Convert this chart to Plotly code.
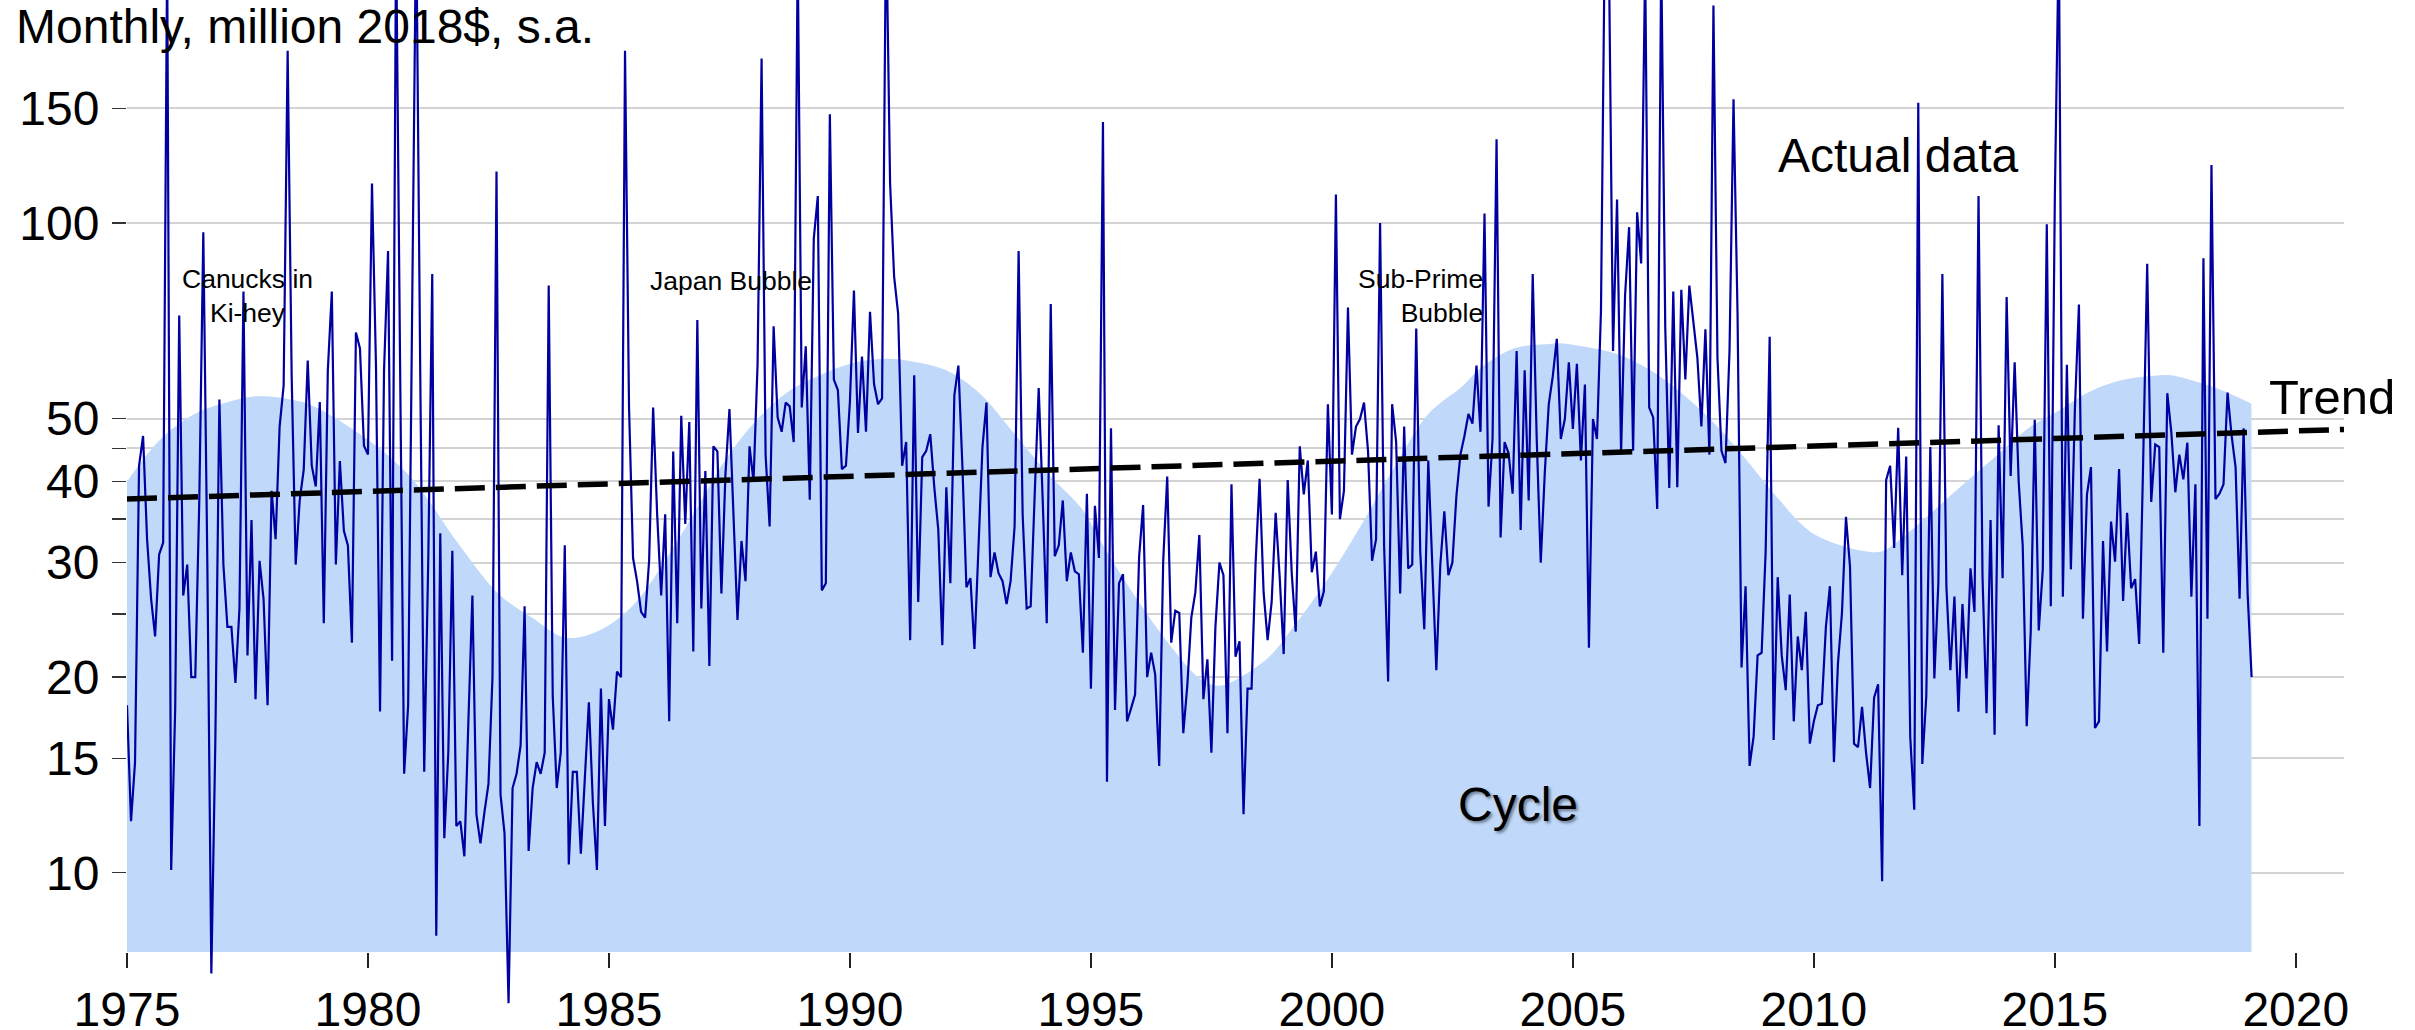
import plotly.graph_objects as go

# ---------------- data ----------------
start_year = 1975  # monthly series, first observation Jan 1975

actual_1975_1984 = [
    18.1, 12.0, 14.8, 42.3, 47, 32.6, 26.4, 23.1, 30.9, 32.2, 260, 10.1,
    17.9, 72, 26.7, 29.8, 20, 20, 37.4, 96.7, 30, 7.0, 16, 53.5,
    29.8, 23.9, 23.9, 19.6, 25.5, 78.4, 21.6, 34.9, 18.5, 30.2, 26.4, 18.1,
    38.7, 32.6, 48.6, 56.2, 184, 58.1, 29.8, 37.4, 41.7, 61.4, 42.3, 39.3,
    53, 24.2, 59.3, 78.4, 29.8, 43.0, 33.6, 31.9, 22.6, 67.8, 64.1, 45.4,
    44, 115, 60, 17.7, 59.3, 90.5, 21.2, 280, 60, 14.2, 18.1, 70,
    300, 60, 14.3, 30, 83.4, 8.0, 33.3, 11.3, 15.3, 31.3, 11.8, 12.0,
    10.6, 17.1, 26.7, 12.3, 11.1, 12.4, 13.7, 20, 120, 13.2, 11.5, 6.3,
    13.5, 14.2, 15.7, 25.7, 10.8, 13.5, 14.8, 14.2, 15.3, 80.1, 18.7, 13.5,
    15.3, 31.9, 10.3, 14.3, 14.3, 10.7, 14.3, 18.3, 12.8, 10.1, 19.2, 11.8,
]
actual_1985_1994 = [
    18.5, 16.6, 20.4, 20, 184, 52, 30.5, 28.1, 25.2, 24.7, 30.2, 52,
    35.6, 26.7, 35.6, 17.1, 44.5, 24.2, 50.5, 34.4, 49.4, 21.9, 70.9, 25.5,
    41.5, 20.8, 45.3, 44.5, 26.9, 41, 51.7, 35.6, 24.5, 32.4, 28.1, 45.3,
    40, 60.6, 179, 44, 34.1, 69.3, 50.2, 47.7, 52.9, 52.2, 46, 260,
    52, 64.6, 37.5, 94.6, 110, 27.2, 27.9, 147, 57.4, 55.3, 41.8, 42.3,
    53.1, 78.7, 47.5, 62.3, 47.7, 73, 56.5, 52.6, 53.7, 300, 115, 82.7,
    72.5, 42.3, 46, 22.8, 58.3, 26.1, 43.6, 44.6, 47.3, 39.2, 33.7, 22.4,
    39.2, 27.9, 54.3, 60.3, 42.3, 27.5, 28.4, 22.1, 31, 45.2, 52.9, 28.5,
    31.1, 28.9, 28.1, 25.9, 28.1, 34.1, 90.5, 35.6, 25.5, 25.7, 38.1, 55.7,
    37.4, 24.2, 75, 30.7, 31.9, 37.4, 28.1, 31.1, 29.1, 28.8, 21.8, 38.3,
]
actual_1995_2004 = [
    19.2, 36.7, 30.5, 143, 13.8, 48.3, 17.8, 27.9, 28.8, 17.1, 17.9, 18.8,
    30.6, 36.8, 20, 21.8, 20.2, 14.6, 30.2, 40.7, 22.6, 25.3, 25.1, 16.4,
    19.4, 24.7, 27, 33.1, 18.5, 21.3, 15.3, 23.9, 30, 28.7, 16.4, 39.6,
    21.5, 22.7, 12.3, 19.2, 19.2, 29.9, 40.4, 27, 22.8, 26.1, 35.8, 28.5,
    21.7, 40.2, 28.9, 23.5, 45.3, 38.2, 43.1, 29, 31.2, 25.7, 27.1, 52.6,
    35.6, 110.6, 35, 38.7, 74.1, 44, 48.6, 49.9, 52.9, 44.5, 30.2, 32.6,
    100, 31.9, 19.7, 52.6, 46, 26.9, 48.6, 29.4, 29.8, 68.8, 31.2, 23.7,
    43.1, 30.5, 20.5, 29.8, 36, 28.7, 30, 38, 44, 47, 50.8, 49.1,
    60.3, 47.7, 103.4, 36.6, 46.5, 134.5, 32.8, 46, 44.2, 38.3, 63.5, 33.7,
    59.3, 37.4, 83.4, 46.5, 30, 41.2, 52.6, 58.1, 66.3, 46.5, 49.9, 61,
]
actual_2005_2014 = [
    48.2, 60.7, 43.1, 56.4, 22.2, 49.9, 46.5, 73.3, 300, 250, 63.5, 108.6,
    44.2, 77.4, 98.5, 44.6, 103.8, 86.6, 250, 52, 50.2, 36.3, 260, 69.3,
    39.1, 78.4, 39.2, 78.9, 57.4, 80.1, 70.9, 62, 48.6, 68.6, 44, 216,
    62, 44.6, 42.7, 63.5, 155, 72.5, 20.7, 27.6, 14.6, 16.2, 21.6, 21.8,
    31.2, 66.8, 16, 28.5, 21.6, 19.1, 26.8, 17.1, 23.1, 20.5, 25.2, 15.8,
    17.1, 18.1, 18.2, 23.9, 27.6, 14.8, 21, 25.1, 35.3, 29.6, 15.8, 15.6,
    18, 15.3, 13.5, 18.6, 19.5, 9.7, 40.2, 42.3, 31.6, 48.4, 28.7, 43.7,
    16.2, 12.5, 153, 14.7, 18.7, 45.2, 19.9, 27.9, 83.4, 27.6, 20.5, 26.6,
    17.7, 25.9, 19.9, 29.4, 25.2, 110, 28.5, 17.6, 34.9, 16.3, 48.8, 28.4,
    76.9, 40.8, 61, 40, 31.9, 16.8, 23.5, 49.8, 23.6, 29.3, 99.5, 25.7,
]
actual_2015_2019 = [
    109, 280, 26.6, 60.5, 29.3, 51.8, 74.9, 24.6, 38.2, 42.1, 16.7, 17.1,
    32.4, 21.9, 34.7, 30.1, 41.8, 26.2, 35.8, 27.4, 28.3, 22.5, 43, 86.5,
    37.2, 45.6, 45.2, 21.8, 54.7, 47.7, 38.5, 44, 40.3, 45.9, 26.6, 39.6,
    11.8, 88.2, 24.6, 122.8, 37.6, 38.3, 39.6, 54.8, 47.2, 42.1, 26.4, 48.3,
    26.9, 20,
]

cycle_years = [
    1975.0, 1975.7, 1976.4, 1977.1, 1977.7, 1978.4, 1978.8, 1979.8, 1980.85,
    1981.9, 1982.7, 1983.4, 1984.1, 1984.8, 1985.5, 1986.2, 1986.9, 1987.35,
    1988.06, 1988.75, 1989.4, 1990.1, 1990.8, 1991.3, 1992.0, 1992.7, 1993.4,
    1994.1, 1994.8, 1995.25, 1995.95, 1996.64, 1997.3, 1997.67, 1998.0, 1998.7,
    1999.2, 1999.9, 2000.6, 2001.3, 2002.0, 2002.7, 2003.1, 2003.8, 2004.5,
    2004.7, 2005.2, 2005.9, 2006.6, 2007.1, 2007.8, 2008.5, 2009.2, 2009.9,
    2010.5, 2011.0, 2011.4, 2011.7, 2012.4, 2013.1, 2013.8, 2014.5, 2015.0,
    2015.7, 2016.4, 2017.05, 2017.4, 2017.75, 2018.4, 2019.08,
]
cycle_values = [
    40, 46.5, 50.8, 53, 54.1, 53.5, 52.5, 47.5, 40.9,
    31.9, 26.9, 24.7, 23.0, 23.6, 25.8, 30.5, 37.2, 42.5,
    49.7, 55.2, 58.4, 61, 61.8, 61.2, 59.3, 54.6, 47.5,
    41.2, 36.4, 31.9, 26.4, 22.4, 19.8, 19.4, 19.8, 21.5,
    23.9, 28.2, 34.2, 42.1, 50.8, 56, 59.9, 64.2, 65.1,
    65.3, 64.6, 62.9, 59.4, 55.9, 50.3, 44.1, 38.1, 33.6,
    32, 31.3, 31.2, 32.2, 35.6, 39.6, 43.9, 48.6, 51,
    54.9, 57.3, 58.2, 58.3, 57.5, 55.5, 52.7,
]

trend_years = [1975, 2021]
trend_values = [37.6, 48.1]

y_tick_values = [10, 15, 20, 25, 30, 35, 40, 45, 50, 100, 150]
y_tick_labels = ["10", "15", "20", "", "30", "", "40", "", "50", "100", "150"]
x_tick_values = [1975, 1980, 1985, 1990, 1995, 2000, 2005, 2010, 2015, 2020]
x_tick_labels = ["1975", "1980", "1985", "1990", "1995", "2000", "2005", "2010", "2015", "2020"]

# ---------------- figure ----------------
actual = (actual_1975_1984 + actual_1985_1994 + actual_1995_2004
          + actual_2005_2014 + actual_2015_2019)
months = [start_year + i / 12 for i in range(len(actual))]

W, H = 2415, 1030
FONT = "Liberation Sans, Arial, Helvetica, sans-serif"
fill_floor = 7.55  # lower edge of the shaded cycle area

fig = go.Figure()
fig.add_trace(go.Scatter(
    x=cycle_years, y=[fill_floor] * len(cycle_years), mode="lines",
    line=dict(width=0, color="rgba(0,0,0,0)"), hoverinfo="skip", showlegend=False))
fig.add_trace(go.Scatter(
    x=cycle_years, y=cycle_values, mode="lines", fill="tonexty",
    fillcolor="#c0d9fa", line=dict(width=0, color="#c0d9fa", shape="spline", smoothing=1.0),
    showlegend=False, name="Cycle"))
fig.add_trace(go.Scatter(
    x=months, y=actual, mode="lines", line=dict(color="#0000a0", width=2.2),
    showlegend=False, name="Actual data"))
fig.add_trace(go.Scatter(
    x=trend_years, y=trend_values, mode="lines",
    line=dict(color="black", width=5.5, dash="30px,11px"),
    showlegend=False, name="Trend"))

x0_px, x1_px = 127, 2344
fig.update_layout(
    template="none",
    width=W, height=H,
    margin=dict(l=0, r=0, t=0, b=0, pad=0, autoexpand=False),
    paper_bgcolor="white", plot_bgcolor="white",
    font=dict(family=FONT, color="black"),
    xaxis=dict(
        automargin=False,
        domain=[x0_px / W, x1_px / W], range=[1975, 2021.0],
        anchor="free", position=(H - 952) / H,
        showgrid=False, zeroline=False, showline=False,
        tickmode="array", tickvals=x_tick_values, ticktext=x_tick_labels,
        ticks="outside", ticklen=15, tickwidth=2, tickcolor="#222",
        tickfont=dict(size=48, family=FONT, color="black"), ticklabelstandoff=0,
    ),
    yaxis=dict(
        automargin=False,
        type="log", domain=[0, 1], range=[0.758, 2.343],
        showgrid=True, gridcolor="#d3d3d3", gridwidth=2,
        zeroline=False, showline=False,
        tickmode="array", tickvals=y_tick_values, ticktext=y_tick_labels,
        ticks="outside", ticklen=14, tickwidth=1.5, tickcolor="#333",
        tickfont=dict(size=48, family=FONT, color="black"), ticklabelstandoff=3,
    ),
)

def yp(px):
    return 1 - px / H

common = dict(showarrow=False)
annotations = [
    dict(text="Monthly, million 2018$, s.a.", xref="paper", yref="paper",
         x=14 / W, y=yp(27), xanchor="left", yanchor="middle",
         font=dict(size=48, family=FONT), **common),
    dict(text="Canucks in<br>Ki-hey", xref="x", yref="paper", x=1977.51, y=yp(296),
         xanchor="center", yanchor="middle", align="center",
         font=dict(size=26.5, family=FONT), **common),
    dict(text="Japan Bubble", xref="x", yref="paper", x=1987.53, y=yp(281),
         xanchor="center", yanchor="middle", font=dict(size=26.5, family=FONT), **common),
    dict(text="Sub-Prime<br>Bubble", xref="x", yref="paper", x=2003.17, y=yp(296),
         xanchor="right", yanchor="middle", align="right",
         font=dict(size=26.5, family=FONT), **common),
    dict(text="Actual data", xref="x", yref="paper", x=2011.74, y=yp(156),
         xanchor="center", yanchor="middle", font=dict(size=48, family=FONT), **common),
    dict(text="Trend", xref="paper", yref="paper", x=2267 / W, y=yp(397),
         xanchor="left", yanchor="middle", font=dict(size=49, family=FONT), **common),
    dict(text="Cycle", xref="x", yref="paper", x=2003.86, y=yp(804),
         xanchor="center", yanchor="middle",
         font=dict(size=48, family=FONT, shadow="2px 2px 3px rgba(0,0,0,0.45)"), **common),
]
fig.update_layout(annotations=annotations)

fig.write_html(
    "out.html",
    config={"displayModeBar": False, "staticPlot": True},
    post_script="document.body.style.margin='0';document.body.style.overflow='hidden';",
)
